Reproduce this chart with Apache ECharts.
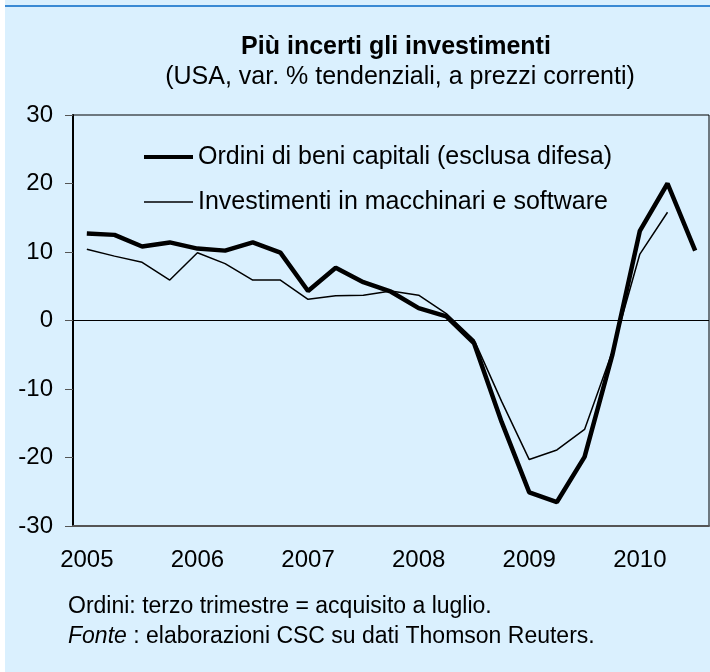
<!DOCTYPE html>
<html>
<head>
<meta charset="utf-8">
<script src="https://cdn.jsdelivr.net/npm/echarts@6/dist/echarts.min.js"></script>
<style>
html,body{margin:0;padding:0;background:#ffffff;}
#chart{width:710px;height:672px;}
</style>
</head>
<body>
<div id="chart"></div>
<script>
// ---- data ----
const categories = [
  '2005-I','2005-II','2005-III','2005-IV',
  '2006-I','2006-II','2006-III','2006-IV',
  '2007-I','2007-II','2007-III','2007-IV',
  '2008-I','2008-II','2008-III','2008-IV',
  '2009-I','2009-II','2009-III','2009-IV',
  '2010-I','2010-II','2010-III'
];
const ordini = [12.7, 12.5, 10.8, 11.4, 10.5, 10.2, 11.4, 9.9, 4.3, 7.7, 5.6, 4.2, 1.8, 0.6, -3.3, -14.8, -25.1, -26.5, -19.9, -5.1, 13.1, 20.0, 10.2];
const investimenti = [10.4, 9.4, 8.5, 5.9, 9.9, 8.3, 5.9, 5.9, 3.1, 3.6, 3.7, 4.3, 3.7, 1.0, -2.8, -11.8, -20.3, -18.9, -15.9, -4.6, 9.7, 15.8, null];
const seriesNames = ['Ordini di beni capitali (esclusa difesa)', 'Investimenti in macchinari e software'];
const yTicks = {min: -30, max: 30, interval: 10};
const titleText = 'Più incerti gli investimenti';
const subtitleText = '(USA, var. % tendenziali, a prezzi correnti)';
const note1 = 'Ordini: terzo trimestre = acquisito a luglio.';
const note2Italic = 'Fonte';
const note2Rest = ' : elaborazioni CSC su dati Thomson Reuters.';

const FONT = '"Liberation Sans", Arial, sans-serif';
const chart = echarts.init(document.getElementById('chart'), null, {renderer: 'canvas'});
const legendBase = {
  orient: 'vertical',
  left: 139,
  itemWidth: 49,
  icon: 'rect',
  textStyle: {fontSize: 25, color: '#000', fontFamily: FONT},
  selectedMode: false
};
chart.setOption({
  backgroundColor: '#daf0fe',
  animation: false,
  textStyle: {fontFamily: FONT},
  graphic: [
    {type: 'rect', left: 0, top: 0, shape: {width: 5, height: 672}, style: {fill: '#ffffff'}},
    {type: 'rect', left: 5, top: 5, shape: {width: 705, height: 2}, style: {fill: '#3a8ad4'}},
    {type: 'text', style: {text: titleText, x: 396, y: 47, textAlign: 'center', textVerticalAlign: 'middle',
      font: 'bold 25px ' + FONT, fill: '#000'}},
    {type: 'text', style: {text: subtitleText, x: 400, y: 77, textAlign: 'center', textVerticalAlign: 'middle',
      font: '25px ' + FONT, fill: '#000'}},
    {type: 'text', style: {text: note1, x: 68, y: 607, textVerticalAlign: 'middle',
      font: '23px ' + FONT, fill: '#000'}},
    {type: 'text', style: {text: '{i|' + note2Italic + '}{n|' + note2Rest + '}', x: 68, y: 637, textVerticalAlign: 'middle',
      font: '23px ' + FONT, fill: '#000',
      rich: {i: {fontStyle: 'italic', fontSize: 23, fontFamily: FONT, fill: '#000'}, n: {fontSize: 23, fontFamily: FONT, fill: '#000'}}}}
  ],
  legend: [
    Object.assign({}, legendBase, {top: 139.5, itemHeight: 4, data: [seriesNames[0]]}),
    Object.assign({}, legendBase, {top: 184.5, itemHeight: 1.5, data: [seriesNames[1]]})
  ],
  grid: {
    left: 73, top: 115, right: 1, bottom: 146,
    show: true, borderColor: '#000', borderWidth: 1, backgroundColor: 'transparent'
  },
  xAxis: {
    type: 'category',
    data: categories,
    boundaryGap: true,
    axisLine: {onZero: false, lineStyle: {color: '#555', width: 2}},
    axisTick: {show: false},
    axisLabel: {
      interval: 3,
      margin: 22,
      fontSize: 24,
      color: '#000',
      fontFamily: FONT,
      formatter: v => v.split('-')[0]
    },
    splitLine: {show: false}
  },
  yAxis: {
    type: 'value',
    min: yTicks.min, max: yTicks.max, interval: yTicks.interval,
    axisLine: {show: true, lineStyle: {color: '#000', width: 2}},
    axisTick: {show: true, length: 8, lineStyle: {color: '#555', width: 1}},
    axisLabel: {fontSize: 24, color: '#000', margin: 20, fontFamily: FONT},
    splitLine: {show: false}
  },
  series: [
    {
      name: seriesNames[0], type: 'line', data: ordini, symbol: 'none',
      lineStyle: {color: '#000', width: 4.5}, itemStyle: {color: '#000'},
      markLine: {silent: true, symbol: 'none', label: {show: false},
        lineStyle: {color: '#000', width: 1, type: 'solid'}, data: [{yAxis: 0}]}
    },
    {
      name: seriesNames[1], type: 'line', data: investimenti, symbol: 'none',
      lineStyle: {color: '#000', width: 1.5}, itemStyle: {color: '#000'}
    }
  ]
});
</script>
</body>
</html>
